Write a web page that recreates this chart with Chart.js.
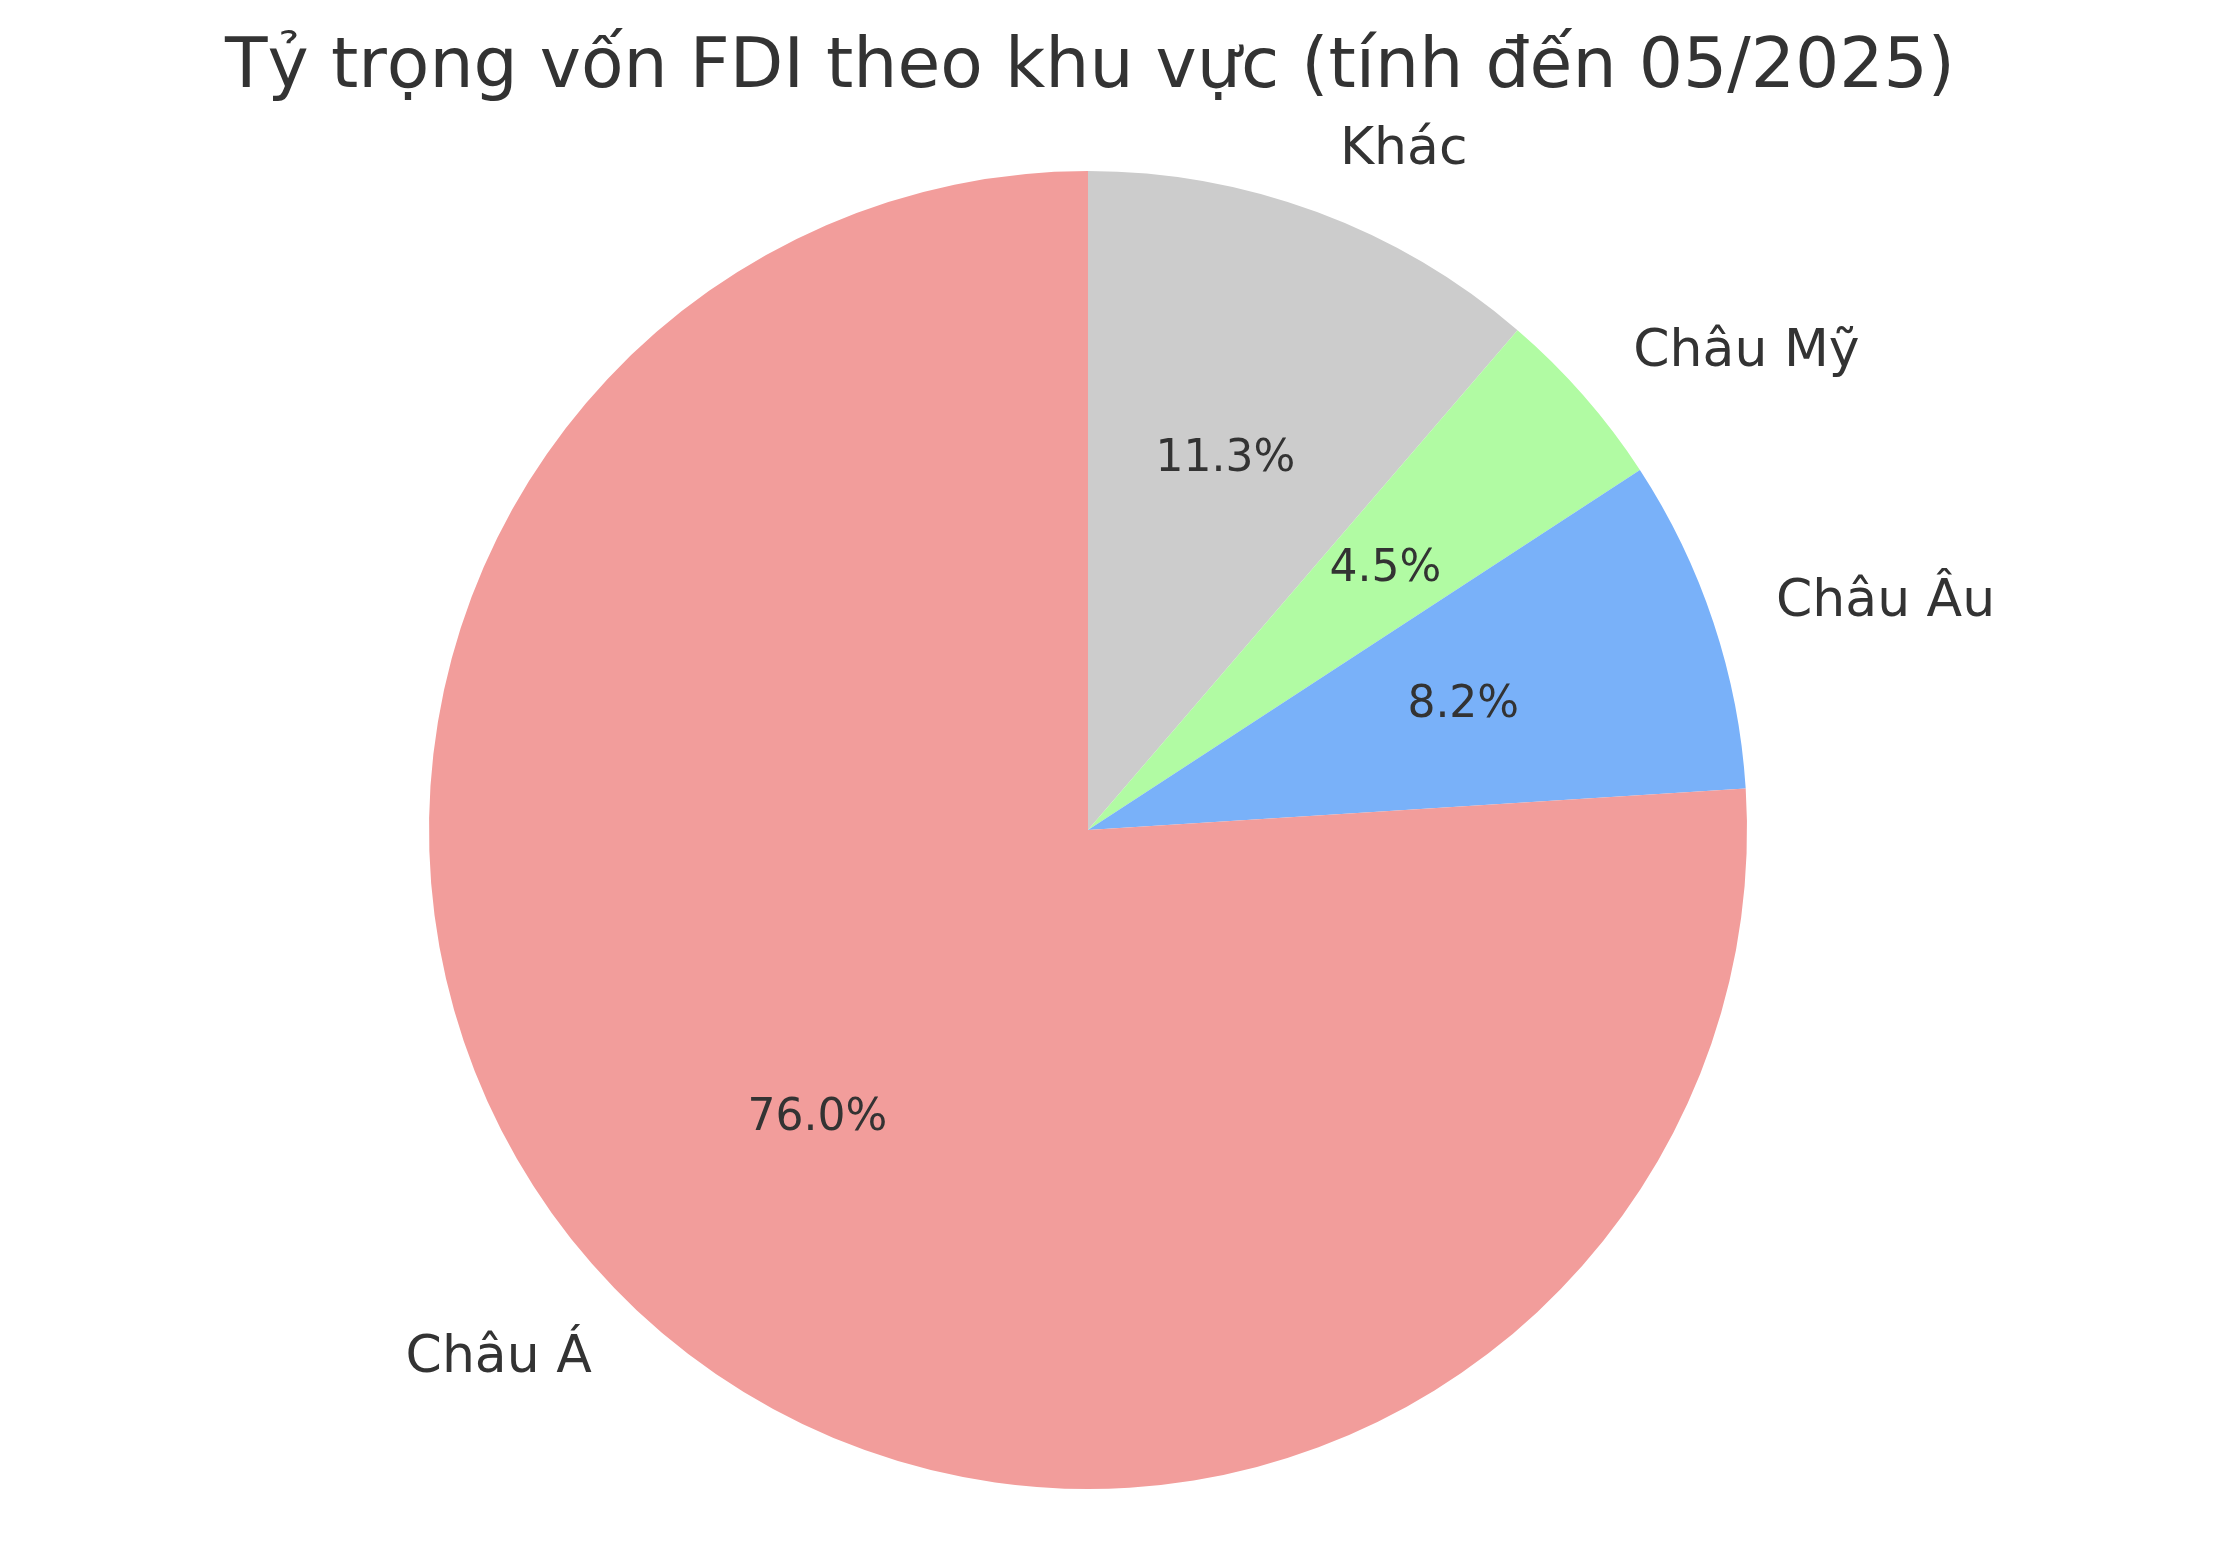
<!DOCTYPE html>
<html>
<head>
<meta charset="utf-8">
<script src="https://cdn.jsdelivr.net/npm/chart.js@4"></script>
<style>
  html, body { margin: 0; padding: 0; background: #fff; }
  canvas { display: block; }
</style>
</head>
<body>
<canvas id="myChart" width="2218" height="1564"></canvas>
<script>
// Dữ liệu (thứ tự theo chiều kim đồng hồ, bắt đầu từ đỉnh)
var categories = ['Khác', 'Châu Mỹ', 'Châu Âu', 'Châu Á'];
var values = [11.3, 4.5, 8.2, 76.0];
var colors = ['#cccccc', '#b1fba3', '#79b1f9', '#f29d9b'];

var titleText = 'Tỷ trọng vốn FDI theo khu vực (tính đến 05/2025)';
var textColor = '#333333';
var fontFamily = '"DejaVu Sans", sans-serif';

// Nhãn kiểu matplotlib: tên ở 1.1r, phần trăm ở 0.6r
var pieLabels = {
	id: 'pieLabels',
	afterDatasetsDraw: function(chart){
		var ctx = chart.ctx;
		var arcs = chart.getDatasetMeta(0).data;
		var total = values.reduce(function(a, b){ return a + b; }, 0);
		ctx.save();
		ctx.fillStyle = textColor;
		ctx.textBaseline = 'alphabetic';
		arcs.forEach(function(arc, i){
			var p = arc.getProps(['x', 'y', 'startAngle', 'endAngle', 'outerRadius'], true);
			var mid = (p.startAngle + p.endAngle) / 2;
			var cx = Math.cos(mid), cy = Math.sin(mid);

			// tên khu vực
			var size = 52;
			ctx.font = size + 'px ' + fontFamily;
			ctx.textAlign = cx > 0 ? 'left' : 'right';
			ctx.fillText(categories[i], p.x + cx * p.outerRadius * 1.1, p.y + cy * p.outerRadius * 1.1 + size * 0.27);

			// phần trăm
			size = 44;
			ctx.font = size + 'px ' + fontFamily;
			ctx.textAlign = 'center';
			var pct = (values[i] / total * 100).toFixed(1) + '%';
			ctx.fillText(pct, p.x + cx * p.outerRadius * 0.6, p.y + cy * p.outerRadius * 0.6 + size * 0.27);
		});

		// tiêu đề
		ctx.font = '69.6px ' + fontFamily;
		ctx.textAlign = 'center';
		ctx.fillText(titleText, 1090, 87);
		ctx.restore();
	}
};

var ctx = document.getElementById('myChart').getContext('2d');
var chart = new Chart(ctx, {
	type: 'pie',
	data: {
		labels: categories,
		datasets: [{
			data: values,
			backgroundColor: colors,
			borderWidth: 0,
			hoverOffset: 0
		}]
	},
	options: {
		responsive: false,
		animation: false,
		events: [],
		layout: {
			padding: { left: 429, right: 471, top: 171, bottom: 75 }
		},
		plugins: {
			legend: { display: false },
			title: { display: false },
			tooltip: { enabled: false }
		}
	},
	plugins: [pieLabels]
});
</script>
</body>
</html>
